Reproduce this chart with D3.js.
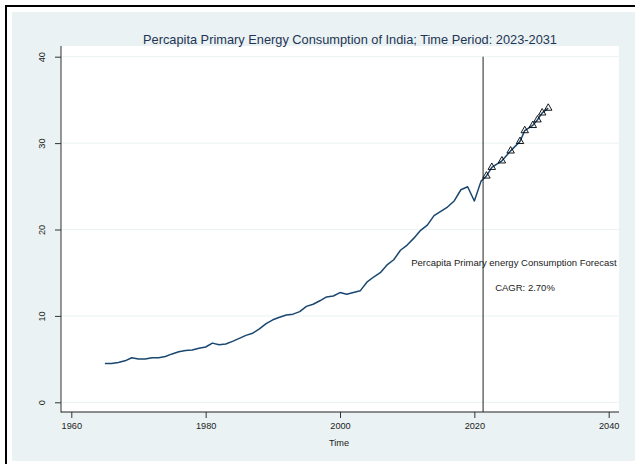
<!DOCTYPE html>
<html>
<head>
<meta charset="utf-8">
<script src="https://cdn.jsdelivr.net/npm/d3@7"></script>
<style>
  html, body { margin: 0; padding: 0; background: #ffffff; }
  svg { display: block; font-family: "Liberation Sans", Arial, sans-serif; }
</style>
</head>
<body>
<svg id="chart" width="635" height="464"></svg>
<script>
// Per-capita primary energy consumption of India (GJ per person)
const histYears = [1965, 1966, 1967, 1968, 1969, 1970, 1971, 1972, 1973, 1974,
  1975, 1976, 1977, 1978, 1979, 1980, 1981, 1982, 1983, 1984,
  1985, 1986, 1987, 1988, 1989, 1990, 1991, 1992, 1993, 1994,
  1995, 1996, 1997, 1998, 1999, 2000, 2001, 2002, 2003, 2004,
  2005, 2006, 2007, 2008, 2009, 2010, 2011, 2012, 2013, 2014,
  2015, 2016, 2017, 2018, 2019, 2020, 2021];
const histValues = [4.5, 4.5, 4.6, 4.8, 5.15, 5.0, 5.0, 5.15, 5.15, 5.3,
  5.6, 5.85, 6.0, 6.05, 6.25, 6.4, 6.85, 6.65, 6.75, 7.05,
  7.4, 7.75, 8.0, 8.5, 9.1, 9.55, 9.85, 10.1, 10.2, 10.5,
  11.1, 11.35, 11.75, 12.2, 12.3, 12.7, 12.5, 12.7, 12.9, 13.9,
  14.5, 15.0, 15.9, 16.5, 17.6, 18.2, 19.0, 19.9, 20.5, 21.6,
  22.1, 22.6, 23.3, 24.6, 24.95, 23.3, 25.6];

// Forecast points
const fcYears = [2021.8, 2022.6, 2024.1, 2025.4, 2026.8, 2027.5, 2028.7, 2029.4, 2030.1, 2031.0];
const fcValues = [26.2, 27.2, 27.95, 29.1, 30.2, 31.45, 32.05, 32.7, 33.5, 34.05];

// Axis ticks
const xTicks = [1960, 1980, 2000, 2020, 2040];
const yTicks = [0, 10, 20, 30, 40];

const forecastStart = 2021.3;
const titleText = "Percapita Primary Energy Consumption of India; Time Period: 2023-2031";
const noteText = "Percapita Primary energy Consumption Forecast";
const cagrText = "CAGR: 2.70%";

const svg = d3.select("#chart");

// frame and graph background
svg.append("rect").attr("x", 12).attr("y", 12).attr("width", 623).attr("height", 449)
  .attr("fill", "#eaf2f3");
svg.append("line").attr("x1", 5).attr("x2", 635).attr("y1", 6).attr("y2", 6)
  .attr("stroke", "#000").attr("stroke-width", 2);
svg.append("line").attr("x1", 6).attr("x2", 6).attr("y1", 5).attr("y2", 464)
  .attr("stroke", "#000").attr("stroke-width", 2);

// plot region
const plot = { left: 61, top: 46, right: 619, bottom: 412 };
svg.append("rect").attr("x", plot.left).attr("y", plot.top)
  .attr("width", plot.right - plot.left).attr("height", plot.bottom - plot.top)
  .attr("fill", "#ffffff");

const x = d3.scaleLinear().domain([1960, 2040]).range([71.3, 608.7]);
const y = d3.scaleLinear().domain([0, 40]).range([402.3, 56.7]);

// horizontal grid
svg.append("g").selectAll("line").data(yTicks).join("line")
  .attr("x1", plot.left).attr("x2", plot.right)
  .attr("y1", d => y(d)).attr("y2", d => y(d))
  .attr("stroke", "#eaf2f3").attr("stroke-width", 1);

// axes
const yAxis = svg.append("g").attr("transform", `translate(${plot.left},0)`)
  .call(d3.axisLeft(y).tickValues(yTicks).tickSize(6).tickPadding(0));
yAxis.select(".domain").remove();
yAxis.selectAll(".tick line").attr("stroke", "#333");
yAxis.selectAll(".tick text")
  .attr("transform", "rotate(-90)")
  .attr("x", 0).attr("y", -19).attr("dy", "0.35em")
  .attr("text-anchor", "middle")
  .attr("font-size", 9.2).attr("fill", "#222");

const xAxis = svg.append("g").attr("transform", `translate(0,${plot.bottom})`)
  .call(d3.axisBottom(x).tickValues(xTicks).tickFormat(d3.format("d")).tickSize(6).tickPadding(4));
xAxis.select(".domain").remove();
xAxis.selectAll(".tick line").attr("stroke", "#333");
xAxis.selectAll(".tick text").attr("font-size", 9.2).attr("fill", "#222");

svg.append("line").attr("x1", plot.left).attr("x2", plot.left)
  .attr("y1", plot.top).attr("y2", plot.bottom + 0.5)
  .attr("stroke", "#333").attr("stroke-width", 1);
svg.append("line").attr("x1", plot.left).attr("x2", plot.right)
  .attr("y1", plot.bottom).attr("y2", plot.bottom)
  .attr("stroke", "#222").attr("stroke-width", 1.2);

svg.append("text").attr("x", 339).attr("y", 446).attr("text-anchor", "middle")
  .attr("font-size", 9.2).attr("fill", "#222").text("Time");

// series
const hist = histYears.map((yr, i) => ({ yr, v: histValues[i] }));
const fc = fcYears.map((yr, i) => ({ yr, v: fcValues[i] }));
const line = d3.line().x(d => x(d.yr)).y(d => y(d.v));

svg.append("path").datum(hist.concat(fc))
  .attr("d", line).attr("fill", "none")
  .attr("stroke", "#1a476f").attr("stroke-width", 1.5)
  .attr("stroke-linejoin", "round");

svg.append("g").selectAll("path").data(fc).join("path")
  .attr("transform", d => `translate(${x(d.yr)},${y(d.v)})`)
  .attr("d", d3.symbol(d3.symbolTriangle, 24))
  .attr("fill", "none").attr("stroke", "#000").attr("stroke-width", 0.9);

// forecast start marker
svg.append("line")
  .attr("x1", x(forecastStart)).attr("x2", x(forecastStart))
  .attr("y1", y(40)).attr("y2", plot.bottom)
  .attr("stroke", "#222").attr("stroke-width", 1);

// annotations
svg.append("text").attr("x", x(2010.6)).attr("y", y(15.75))
  .attr("font-size", 9.5).attr("fill", "#222").text(noteText);
svg.append("text").attr("x", x(2023.1)).attr("y", y(12.85))
  .attr("font-size", 9.5).attr("fill", "#222").text(cagrText);

// title
svg.append("text").attr("x", 350).attr("y", 44).attr("text-anchor", "middle")
  .attr("font-size", 12.8).attr("fill", "#1f3554").text(titleText);
</script>
</body>
</html>
